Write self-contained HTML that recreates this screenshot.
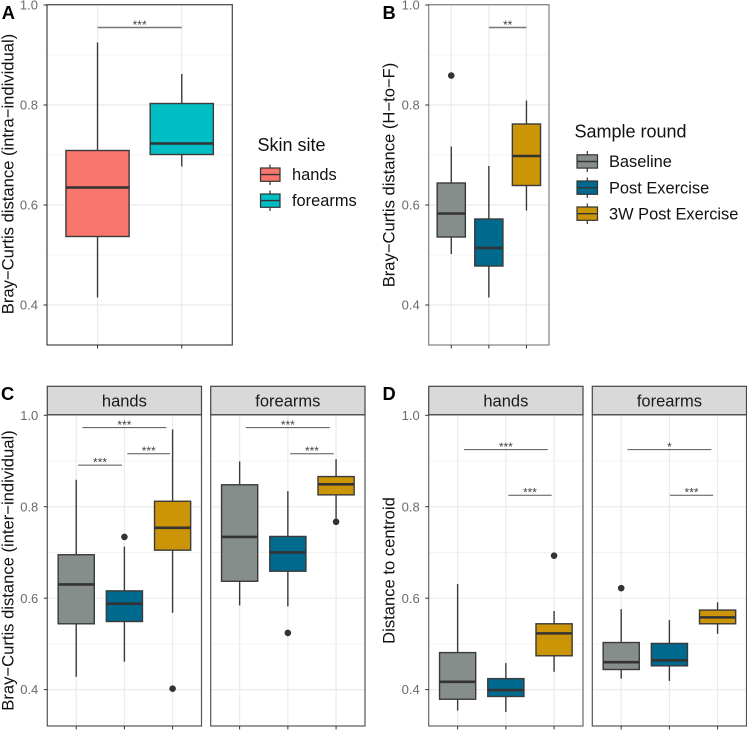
<!DOCTYPE html>
<html>
<head>
<meta charset="utf-8">
<style>
html,body{margin:0;padding:0;background:#fff;}
svg{display:block;font-family:"Liberation Sans",sans-serif;}
</style>
</head>
<body>
<svg id="fig" width="747" height="731" viewBox="0 0 747 731" xmlns="http://www.w3.org/2000/svg">
  <g>
    <text x="257.5" y="151" font-size="18" fill="#111">Skin site</text>
    <g>
      <line x1="270" x2="270" y1="164.5" y2="185" stroke="#333" stroke-width="1.2"/>
      <rect x="260.5" y="168" width="19.5" height="13.3" fill="#f8766d" stroke="#333" stroke-width="1.2"/>
      <line x1="260.5" x2="280" y1="174.6" y2="174.6" stroke="#333" stroke-width="1.4"/>
      <text x="292" y="180" font-size="16.4" fill="#111">hands</text>
    </g>
    <g>
      <line x1="270" x2="270" y1="190.5" y2="211" stroke="#333" stroke-width="1.2"/>
      <rect x="260.5" y="194" width="19.5" height="13.3" fill="#00bfc4" stroke="#333" stroke-width="1.2"/>
      <line x1="260.5" x2="280" y1="200.6" y2="200.6" stroke="#333" stroke-width="1.4"/>
      <text x="292" y="206" font-size="16.4" fill="#111">forearms</text>
    </g>
  </g>
  <g>
    <text x="574.5" y="137.5" font-size="18" fill="#111">Sample round</text>
    <g>
      <line x1="587.3" x2="587.3" y1="151" y2="172" stroke="#333" stroke-width="1.2"/>
      <rect x="577" y="154.8" width="20.5" height="13.3" fill="#868e8b" stroke="#333" stroke-width="1.2"/>
      <line x1="577" x2="597.5" y1="161.5" y2="161.5" stroke="#333" stroke-width="1.4"/>
      <text x="609" y="167" font-size="16.4" fill="#111">Baseline</text>
    </g>
    <g>
      <line x1="587.3" x2="587.3" y1="177.5" y2="198" stroke="#333" stroke-width="1.2"/>
      <rect x="577" y="181" width="20.5" height="13.3" fill="#006a8e" stroke="#333" stroke-width="1.2"/>
      <line x1="577" x2="597.5" y1="187.7" y2="187.7" stroke="#333" stroke-width="1.4"/>
      <text x="609" y="193.3" font-size="16.4" fill="#111">Post Exercise</text>
    </g>
    <g>
      <line x1="587.3" x2="587.3" y1="203.5" y2="224" stroke="#333" stroke-width="1.2"/>
      <rect x="577" y="207" width="20.5" height="13.3" fill="#cc9508" stroke="#333" stroke-width="1.2"/>
      <line x1="577" x2="597.5" y1="213.7" y2="213.7" stroke="#333" stroke-width="1.4"/>
      <text x="609" y="219.3" font-size="16.4" fill="#111">3W Post Exercise</text>
    </g>
  </g>
</svg>
<script>
// Panel A
const aCategories = ['hands', 'forearms'];
const aWhiskerLow = [0.415, 0.677];
const aQ1 = [0.537, 0.701];
const aMedian = [0.635, 0.723];
const aQ3 = [0.709, 0.803];
const aWhiskerHigh = [0.925, 0.862];
const aOutliers = [[], []];
const aBracketStart = [1];
const aBracketEnd = [2];
const aBracketHeight = [0.955];
const aBracketLabel = ['***'];

// Panel B
const bCategories = ['Baseline', 'Post Exercise', '3W Post Exercise'];
const bWhiskerLow = [0.502, 0.415, 0.589];
const bQ1 = [0.536, 0.478, 0.639];
const bMedian = [0.583, 0.514, 0.698];
const bQ3 = [0.644, 0.572, 0.762];
const bWhiskerHigh = [0.717, 0.678, 0.809];
const bOutliers = [[0.859], [], []];
const bBracketStart = [2];
const bBracketEnd = [3];
const bBracketHeight = [0.955];
const bBracketLabel = ['**'];

// Panel C, hands
const cHandsWhiskerLow = [0.428, 0.461, 0.568];
const cHandsQ1 = [0.544, 0.549, 0.705];
const cHandsMedian = [0.630, 0.588, 0.754];
const cHandsQ3 = [0.695, 0.616, 0.812];
const cHandsWhiskerHigh = [0.859, 0.713, 0.969];
const cHandsOutliers = [[], [0.734], [0.402]];
const cHandsBracketStart = [1.13, 2.06, 1.04];
const cHandsBracketEnd = [2.87, 2.95, 1.95];
const cHandsBracketHeight = [0.973, 0.916, 0.891];
const cHandsBracketLabel = ['***', '***', '***'];

// Panel C, forearms
const cForearmsWhiskerLow = [0.584, 0.582, 0.771];
const cForearmsQ1 = [0.637, 0.659, 0.826];
const cForearmsMedian = [0.734, 0.700, 0.849];
const cForearmsQ3 = [0.848, 0.735, 0.866];
const cForearmsWhiskerHigh = [0.899, 0.834, 0.904];
const cForearmsOutliers = [[], [0.524], [0.767]];
const cForearmsBracketStart = [1.13, 2.05];
const cForearmsBracketEnd = [2.87, 2.95];
const cForearmsBracketHeight = [0.973, 0.916];
const cForearmsBracketLabel = ['***', '***'];

// Panel D, hands
const dHandsWhiskerLow = [0.354, 0.351, 0.439];
const dHandsQ1 = [0.379, 0.385, 0.474];
const dHandsMedian = [0.417, 0.399, 0.523];
const dHandsQ3 = [0.481, 0.424, 0.544];
const dHandsWhiskerHigh = [0.631, 0.458, 0.572];
const dHandsOutliers = [[], [], [0.693]];
const dHandsBracketStart = [1.13, 2.05];
const dHandsBracketEnd = [2.87, 2.95];
const dHandsBracketHeight = [0.925, 0.825];
const dHandsBracketLabel = ['***', '***'];

// Panel D, forearms
const dForearmsWhiskerLow = [0.424, 0.419, 0.522];
const dForearmsQ1 = [0.444, 0.452, 0.544];
const dForearmsMedian = [0.460, 0.464, 0.558];
const dForearmsQ3 = [0.503, 0.501, 0.574];
const dForearmsWhiskerHigh = [0.576, 0.552, 0.591];
const dForearmsOutliers = [[0.622], [], []];
const dForearmsBracketStart = [1.13, 2.01];
const dForearmsBracketEnd = [2.87, 2.91];
const dForearmsBracketHeight = [0.925, 0.825];
const dForearmsBracketLabel = ['*', '***'];

const yMajorTicks = [0.4, 0.6, 0.8, 1.0];
const yMinorTicks = [0.5, 0.7, 0.9];
const roundNames = ['Baseline', 'Post Exercise', '3W Post Exercise'];
const roundColors = ['#868e8b', '#006a8e', '#cc9508'];
const siteColors = ['#f8766d', '#00bfc4'];

const svg = document.getElementById('fig');
const NS = 'http://www.w3.org/2000/svg';

function make(parent, tag, props, text) {
  const node = document.createElementNS(NS, tag);
  for (const key in props) node.setAttribute(key, props[key]);
  if (text !== undefined) node.textContent = text;
  parent.appendChild(node);
  return node;
}
function slug(s) {
  return String(s).toLowerCase().replace(/\s+/g, '-');
}

function drawPanel(p) {
  const g = make(svg, 'g', {});
  
  

  const yPos = v => p.y1 + (1 - v) * p.unit;
  const step = (p.right - p.left) / (p.categories.length - 1 + 1.2);
  const xPos = c => p.left + (c - 1 + 0.6) * step;
  const boxWidth = 0.75 * step;

  yMinorTicks.forEach(v => {
    const l = make(g, 'line', {x1: p.left, x2: p.right, y1: yPos(v), y2: yPos(v), stroke: '#f1f1f1', 'stroke-width': 0.8});
    
    
  });
  yMajorTicks.forEach(v => {
    const l = make(g, 'line', {x1: p.left, x2: p.right, y1: yPos(v), y2: yPos(v), stroke: '#ebebeb', 'stroke-width': 1.2});
    
    
  });
  p.categories.forEach((c, i) => {
    const l = make(g, 'line', {x1: xPos(i + 1), x2: xPos(i + 1), y1: p.top, y2: p.bottom, stroke: '#ebebeb', 'stroke-width': 1.2});
    
    
  });

  p.categories.forEach((c, i) => {
    const x = xPos(i + 1);
    const key = slug(c);
    const w1 = make(g, 'line', {x1: x, x2: x, y1: yPos(p.q3[i]), y2: yPos(p.high[i]), stroke: '#3a3a3a', 'stroke-width': 1.4});
    
    
    const w2 = make(g, 'line', {x1: x, x2: x, y1: yPos(p.q1[i]), y2: yPos(p.low[i]), stroke: '#3a3a3a', 'stroke-width': 1.4});
    
    
    const box = make(g, 'rect', {x: x - boxWidth / 2, y: yPos(p.q3[i]), width: boxWidth, height: yPos(p.q1[i]) - yPos(p.q3[i]), fill: p.colors[i], stroke: '#3a3a3a', 'stroke-width': 1.4});
    
    
    const med = make(g, 'line', {x1: x - boxWidth / 2, x2: x + boxWidth / 2, y1: yPos(p.median[i]), y2: yPos(p.median[i]), stroke: '#333', 'stroke-width': 2.6});
    
    
    p.outliers[i].forEach(v => {
      const o = make(g, 'circle', {cx: x, cy: yPos(v), r: 3.3, fill: '#333'});
      
      
    });
  });

  p.bStart.forEach((s, i) => {
    const y = yPos(p.bHeight[i]);
    const x1 = xPos(s);
    const x2 = xPos(p.bEnd[i]);
    const l = make(g, 'line', {x1: x1, x2: x2, y1: y, y2: y, stroke: p.bracketColor, 'stroke-width': p.bracketWidth});
    
    
    const t = make(g, 'text', {x: (x1 + x2) / 2, y: y + 1.3, 'font-size': 12, 'text-anchor': 'middle', fill: '#444'}, p.bLabel[i]);
    
    
  });

  const frame = make(g, 'rect', {x: p.left, y: p.top, width: p.right - p.left, height: p.bottom - p.top, fill: 'none', stroke: p.frameColor, 'stroke-width': 1.2});
  
  

  p.categories.forEach((c, i) => {
    const l = make(g, 'line', {x1: xPos(i + 1), x2: xPos(i + 1), y1: p.bottom, y2: p.bottom + 3.5, stroke: '#333', 'stroke-width': 1});
    
    
  });

  if (p.showY) {
    yMajorTicks.forEach(v => {
      const l = make(g, 'line', {x1: p.left - 3.5, x2: p.left, y1: yPos(v), y2: yPos(v), stroke: '#333', 'stroke-width': 1});
      
      
      const t = make(g, 'text', {x: p.left - 9, y: yPos(v) + 4.6, 'font-size': 13, 'text-anchor': 'end', fill: '#6a6a6a'}, v.toFixed(1));
      
      
    });
  }

  if (p.strip) {
    const s = make(g, 'rect', {x: p.left, y: p.stripTop, width: p.right - p.left, height: p.top - p.stripTop, fill: '#d9d9d9', stroke: '#444', 'stroke-width': 1.2});
    
    
    const t = make(g, 'text', {x: (p.left + p.right) / 2, y: p.stripTop + 20, 'font-size': 16.5, 'text-anchor': 'middle', fill: '#1a1a1a'}, p.strip);
    
    
  }
}

function drawLabel(text, x, y) {
  const t = make(svg, 'text', {x: x, y: y, 'font-size': 18.3, 'font-weight': 'bold', fill: '#000'}, text);
  
  
}
function drawYTitle(text, x, cy) {
  const t = make(svg, 'text', {transform: 'translate(' + x + ',' + cy + ') rotate(-90)', 'font-size': 16.6, 'text-anchor': 'middle', fill: '#111'}, text);
  
  
}

drawPanel({id: 'a', left: 47, right: 232.3, top: 4.7, bottom: 345, y1: 5, unit: 500, showY: true, frameColor: '#444', bracketColor: '#777', bracketWidth: 1.4,
  categories: aCategories, colors: siteColors, low: aWhiskerLow, q1: aQ1, median: aMedian, q3: aQ3, high: aWhiskerHigh, outliers: aOutliers,
  bStart: aBracketStart, bEnd: aBracketEnd, bHeight: aBracketHeight, bLabel: aBracketLabel});
drawPanel({id: 'b', left: 428.7, right: 549, top: 4.7, bottom: 345, y1: 5, unit: 500, showY: true, frameColor: '#808080', bracketColor: '#777', bracketWidth: 1.4,
  categories: bCategories, colors: roundColors, low: bWhiskerLow, q1: bQ1, median: bMedian, q3: bQ3, high: bWhiskerHigh, outliers: bOutliers,
  bStart: bBracketStart, bEnd: bBracketEnd, bHeight: bBracketHeight, bLabel: bBracketLabel});
drawPanel({id: 'c-hands', left: 47.3, right: 201.5, top: 414.7, bottom: 726, stripTop: 386.3, y1: 415.3, unit: 457.2, showY: true, strip: 'hands', frameColor: '#555', bracketColor: '#555', bracketWidth: 1,
  categories: roundNames, colors: roundColors, low: cHandsWhiskerLow, q1: cHandsQ1, median: cHandsMedian, q3: cHandsQ3, high: cHandsWhiskerHigh, outliers: cHandsOutliers,
  bStart: cHandsBracketStart, bEnd: cHandsBracketEnd, bHeight: cHandsBracketHeight, bLabel: cHandsBracketLabel});
drawPanel({id: 'c-forearms', left: 210.7, right: 365, top: 414.7, bottom: 726, stripTop: 386.3, y1: 415.3, unit: 457.2, showY: false, strip: 'forearms', frameColor: '#555', bracketColor: '#555', bracketWidth: 1,
  categories: roundNames, colors: roundColors, low: cForearmsWhiskerLow, q1: cForearmsQ1, median: cForearmsMedian, q3: cForearmsQ3, high: cForearmsWhiskerHigh, outliers: cForearmsOutliers,
  bStart: cForearmsBracketStart, bEnd: cForearmsBracketEnd, bHeight: cForearmsBracketHeight, bLabel: cForearmsBracketLabel});
drawPanel({id: 'd-hands', left: 428.7, right: 583, top: 414.7, bottom: 726, stripTop: 386.3, y1: 415.3, unit: 457.2, showY: true, strip: 'hands', frameColor: '#666', bracketColor: '#555', bracketWidth: 1,
  categories: roundNames, colors: roundColors, low: dHandsWhiskerLow, q1: dHandsQ1, median: dHandsMedian, q3: dHandsQ3, high: dHandsWhiskerHigh, outliers: dHandsOutliers,
  bStart: dHandsBracketStart, bEnd: dHandsBracketEnd, bHeight: dHandsBracketHeight, bLabel: dHandsBracketLabel});
drawPanel({id: 'd-forearms', left: 592.3, right: 746.5, top: 414.7, bottom: 726, stripTop: 386.3, y1: 415.3, unit: 457.2, showY: false, strip: 'forearms', frameColor: '#555', bracketColor: '#555', bracketWidth: 1,
  categories: roundNames, colors: roundColors, low: dForearmsWhiskerLow, q1: dForearmsQ1, median: dForearmsMedian, q3: dForearmsQ3, high: dForearmsWhiskerHigh, outliers: dForearmsOutliers,
  bStart: dForearmsBracketStart, bEnd: dForearmsBracketEnd, bHeight: dForearmsBracketHeight, bLabel: dForearmsBracketLabel});

drawLabel('A', 1.7, 19);
drawLabel('B', 382.5, 19);
drawLabel('C', 1, 400);
drawLabel('D', 382.5, 400);
drawYTitle('Bray\u2212Curtis distance (intra\u2212individual)', 13.5, 174);
drawYTitle('Bray\u2212Curtis distance (H\u2212to\u2212F)', 394.5, 175);
drawYTitle('Bray\u2212Curtis distance (inter\u2212individual)', 13.5, 570.5);
drawYTitle('Distance to centroid', 394.5, 570.5);
</script>
</body>
</html>
